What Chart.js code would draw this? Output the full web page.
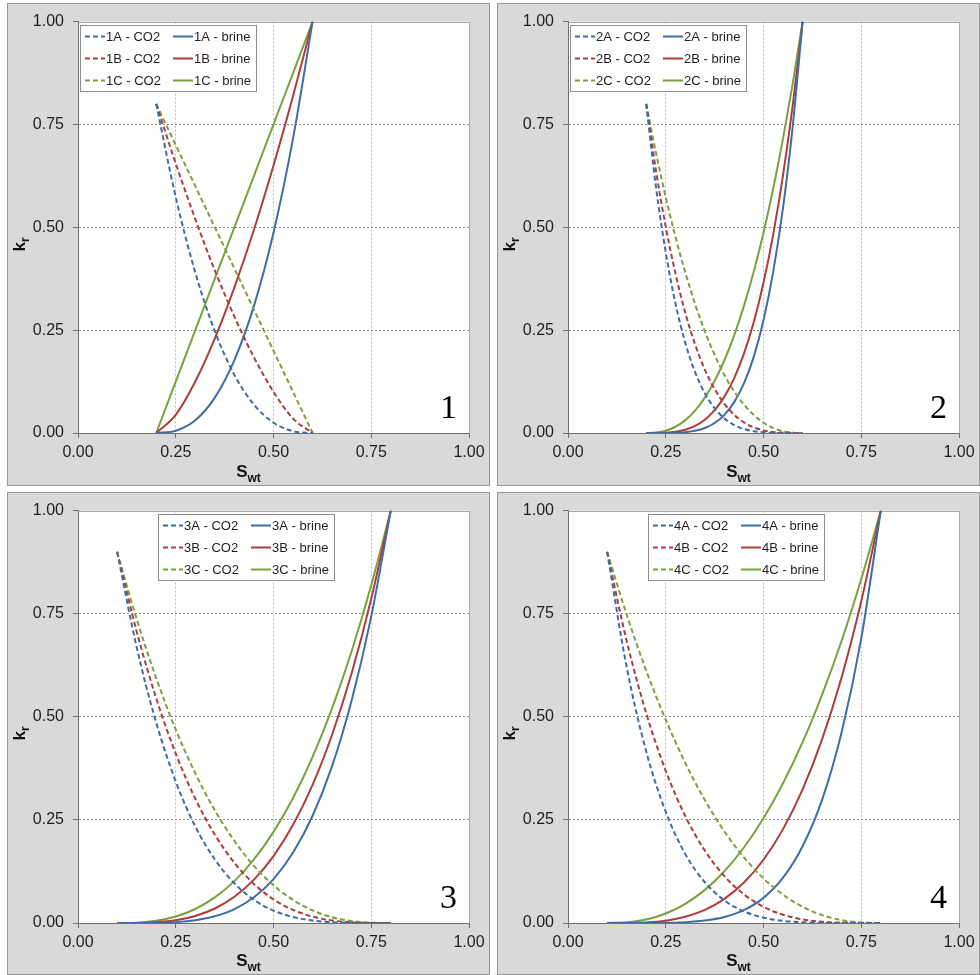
<!DOCTYPE html>
<html>
<head>
<meta charset="utf-8">
<title>Relative permeability curves</title>
<script src="https://cdn.jsdelivr.net/npm/chart.js@4.4.0/dist/chart.umd.min.js"></script>
<style>
  html, body { margin: 0; padding: 0; background: #ffffff; }
  body { position: relative; width: 980px; height: 975px; overflow: hidden; }
  canvas { position: absolute; }
</style>
</head>
<body>
<canvas id="panel1" width="483" height="483" style="left:7px;top:3px"></canvas>
<canvas id="panel2" width="483" height="483" style="left:497px;top:3px"></canvas>
<canvas id="panel3" width="483" height="484" style="left:7px;top:492px"></canvas>
<canvas id="panel4" width="483" height="484" style="left:497px;top:492px"></canvas>
<script>
// Water saturation sample points
const swP1 = [0.20, 0.25, 0.30, 0.35, 0.40, 0.45, 0.50, 0.55, 0.60];
const swP2 = [0.200, 0.225, 0.250, 0.275, 0.300, 0.325, 0.350, 0.375, 0.400,
              0.425, 0.450, 0.475, 0.500, 0.525, 0.550, 0.575, 0.600];
const swP34 = [0.10, 0.15, 0.20, 0.25, 0.30, 0.35, 0.40, 0.45,
               0.50, 0.55, 0.60, 0.65, 0.70, 0.75, 0.80];

// Set 1
const co2_1A = [0.8, 0.573, 0.390, 0.247, 0.141, 0.069, 0.025, 0.0044, 0];
const co2_1B = [0.8, 0.655, 0.520, 0.395, 0.283, 0.184, 0.100, 0.035, 0];
const co2_1C = [0.8, 0.700, 0.600, 0.500, 0.400, 0.300, 0.200, 0.100, 0];
const brine_1A = [0, 0.0055, 0.031, 0.086, 0.177, 0.309, 0.487, 0.716, 1];
const brine_1B = [0, 0.044, 0.125, 0.230, 0.354, 0.494, 0.650, 0.819, 1];
const brine_1C = [0, 0.125, 0.250, 0.375, 0.500, 0.625, 0.750, 0.875, 1];

// Set 2
const co2_2A = [0.8, 0.598, 0.439, 0.314, 0.219, 0.148, 0.0965, 0.060, 0.0354,
                0.0194, 0.0097, 0.0043, 0.0016, 0.0004, 0.0001, 0, 0];
const co2_2B = [0.8, 0.638, 0.501, 0.387, 0.292, 0.2155, 0.154, 0.107, 0.0707,
                0.0443, 0.0258, 0.0136, 0.0062, 0.0023, 0.0006, 0.0001, 0];
const co2_2C = [0.8, 0.681, 0.573, 0.476, 0.390, 0.3135, 0.247, 0.190, 0.141,
                0.101, 0.069, 0.044, 0.025, 0.012, 0.0044, 0.0008, 0];
const brine_2A = [0, 0, 0.0001, 0.0005, 0.002, 0.0053, 0.0121, 0.0242, 0.0442,
                  0.0751, 0.1206, 0.185, 0.274, 0.393, 0.548, 0.748, 1];
const brine_2B = [0, 0.0001, 0.0007, 0.0029, 0.0078, 0.0171, 0.0323, 0.0554, 0.0884,
                  0.1335, 0.193, 0.269, 0.365, 0.4835, 0.627, 0.798, 1];
const brine_2C = [0, 0.001, 0.0055, 0.0152, 0.0313, 0.0546, 0.0861, 0.1266, 0.1768,
                  0.2373, 0.309, 0.392, 0.487, 0.595, 0.716, 0.851, 1];

// Set 3
const co2_3A = [0.9, 0.669, 0.486, 0.343, 0.234, 0.154, 0.096, 0.056, 0.030,
                0.0147, 0.006, 0.0019, 0.0004, 0, 0];
const co2_3B = [0.9, 0.707, 0.545, 0.411, 0.3015, 0.214, 0.146, 0.0946, 0.0573,
                0.0317, 0.0154, 0.006, 0.0016, 0.0002, 0];
const co2_3C = [0.9, 0.737, 0.594, 0.469, 0.363, 0.273, 0.199, 0.1385, 0.0914,
                0.0558, 0.0306, 0.014, 0.0047, 0.0007, 0];
const brine_3A = [0, 0, 0.0004, 0.0021, 0.0067, 0.0163, 0.0337, 0.0625, 0.1066,
                  0.1708, 0.260, 0.381, 0.540, 0.7435, 1];
const brine_3B = [0, 0.0002, 0.0018, 0.0067, 0.0171, 0.0352, 0.0637, 0.1051, 0.1622,
                  0.238, 0.335, 0.457, 0.606, 0.786, 1];
const brine_3C = [0, 0.0008, 0.0052, 0.0156, 0.034, 0.062, 0.1015, 0.154, 0.221,
                  0.303, 0.403, 0.521, 0.6595, 0.819, 1];

// Set 4
const co2_4A = [0.9, 0.621, 0.416, 0.2695, 0.167, 0.0988, 0.0548, 0.0281, 0.0131,
                0.0052, 0.0017, 0.0004, 0.0001, 0, 0];
const co2_4B = [0.9, 0.684, 0.509, 0.369, 0.259, 0.1755, 0.1135, 0.0693, 0.0392,
                0.020, 0.0087, 0.003, 0.0007, 0.0001, 0];
const co2_4C = [0.9, 0.748, 0.612, 0.4925, 0.388, 0.298, 0.222, 0.159, 0.108,
                0.0686, 0.0392, 0.0192, 0.0069, 0.0013, 0];
const brine_4A = [0, 0, 0.0001, 0.0005, 0.0019, 0.0058, 0.0145, 0.0313, 0.0609,
                  0.1098, 0.186, 0.299, 0.463, 0.690, 1];
const brine_4B = [0, 0.0001, 0.0015, 0.0057, 0.015, 0.0318, 0.0585, 0.0981, 0.1534,
                  0.2276, 0.324, 0.446, 0.5965, 0.780, 1];
const brine_4C = [0, 0.0016, 0.0085, 0.023, 0.0465, 0.0803, 0.1254, 0.183, 0.2538,
                  0.3388, 0.4385, 0.554, 0.685, 0.834, 1];

// Axis ticks
const tickValues = [0, 0.25, 0.5, 0.75, 1];
const tickLabels = ['0.00', '0.25', '0.50', '0.75', '1.00'];
const caseLetters = ['A', 'B', 'C'];

const FONT = '"Liberation Sans", Arial, Helvetica, sans-serif';
const caseColors = { A: '#3F6CA6', B: '#AD3D3A', C: '#7BA03E' };

const panels = [
  { id: 'panel1', num: '1', sw: swP1, co2: [co2_1A, co2_1B, co2_1C], brine: [brine_1A, brine_1B, brine_1C], legendX: 2 },
  { id: 'panel2', num: '2', sw: swP2, co2: [co2_2A, co2_2B, co2_2C], brine: [brine_2A, brine_2B, brine_2C], legendX: 2 },
  { id: 'panel3', num: '3', sw: swP34, co2: [co2_3A, co2_3B, co2_3C], brine: [brine_3A, brine_3B, brine_3C], legendX: 80 },
  { id: 'panel4', num: '4', sw: swP34, co2: [co2_4A, co2_4B, co2_4C], brine: [brine_4A, brine_4B, brine_4C], legendX: 80 }
];

function toPoints(sw, values) {
  return values.map((v, i) => ({ x: sw[i], y: v }));
}

// Grey panel, white plot area and light frame on its top/right edges
const panelFrame = {
  id: 'panelFrame',
  beforeDraw(chart) {
    const { ctx, chartArea: a, width, height } = chart;
    ctx.save();
    ctx.fillStyle = '#d9d9d9';
    ctx.fillRect(0, 0, width, height);
    ctx.strokeStyle = '#979797';
    ctx.lineWidth = 1;
    ctx.strokeRect(0.5, 0.5, width - 1, 482);
    ctx.fillStyle = '#ffffff';
    ctx.fillRect(a.left, a.top, a.right - a.left, a.bottom - a.top);
    ctx.restore();
  },
  beforeDatasetsDraw(chart) {
    const { ctx, chartArea: a } = chart;
    ctx.save();
    ctx.strokeStyle = '#a8a8a8';
    ctx.lineWidth = 1;
    ctx.beginPath();
    ctx.moveTo(Math.round(a.left) + 0.5, Math.round(a.top) + 0.5);
    ctx.lineTo(Math.round(a.right) + 0.5, Math.round(a.top) + 0.5);
    ctx.lineTo(Math.round(a.right) + 0.5, Math.round(a.bottom) + 0.5);
    ctx.stroke();
    ctx.restore();
  }
};

// Two-column legend box inside the plot area, panel number, axis titles
const panelText = {
  id: 'panelText',
  afterDatasetsDraw(chart, args, opts) {
    const { ctx, chartArea: a } = chart;
    const x0 = Math.round(a.left + opts.legendX);
    const y0 = Math.round(a.top + 3);
    const w = 176, h = 66;
    ctx.save();
    ctx.fillStyle = '#ffffff';
    ctx.fillRect(x0, y0, w, h);
    ctx.strokeStyle = '#8c8c8c';
    ctx.lineWidth = 1;
    ctx.strokeRect(x0 + 0.5, y0 + 0.5, w, h);
    ctx.font = '13px ' + FONT;
    ctx.textBaseline = 'middle';
    ctx.textAlign = 'left';
    chart.data.datasets.forEach((ds, i) => {
      const col = i < 3 ? 0 : 1;
      const row = i % 3;
      const lx = x0 + 5 + col * 88;
      const ly = y0 + 11.5 + row * 22;
      ctx.strokeStyle = ds.borderColor;
      ctx.lineWidth = 2;
      ctx.setLineDash(ds.borderDash || []);
      ctx.beginPath();
      ctx.moveTo(lx, ly);
      ctx.lineTo(lx + 20, ly);
      ctx.stroke();
      ctx.setLineDash([]);
      ctx.fillStyle = '#1e1e1e';
      ctx.fillText(ds.label, lx + 21, ly + 0.5);
    });

    // panel number
    ctx.fillStyle = '#000000';
    ctx.font = '34px "Liberation Serif", "Times New Roman", serif';
    ctx.textAlign = 'right';
    ctx.textBaseline = 'alphabetic';
    ctx.fillText(opts.num, a.right - 12, a.bottom - 15);
    ctx.restore();
  },
  afterDraw(chart) {
    const { ctx, width } = chart;
    const big = 'bold 17px ' + FONT;
    const small = 'bold 12px ' + FONT;
    ctx.save();
    ctx.fillStyle = '#111111';
    ctx.textBaseline = 'alphabetic';
    ctx.textAlign = 'left';

    // x title: S with subscript wt
    ctx.font = big;
    const wS = ctx.measureText('S').width;
    ctx.font = small;
    const wWt = ctx.measureText('wt').width;
    const sx = width / 2 - (wS + wWt) / 2;
    ctx.font = big;
    ctx.fillText('S', sx, 474);
    ctx.font = small;
    ctx.fillText('wt', sx + wS, 479);

    // y title: k with subscript r, rotated
    ctx.translate(18, 241.5);
    ctx.rotate(-Math.PI / 2);
    ctx.font = big;
    const wK = ctx.measureText('k').width;
    ctx.font = small;
    const wR = ctx.measureText('r').width;
    const kx = -(wK + wR) / 2;
    ctx.font = big;
    ctx.fillText('k', kx, 0);
    ctx.font = small;
    ctx.fillText('r', kx + wK, 4);
    ctx.restore();
  }
};

function axisOptions(isX) {
  return {
    type: 'linear',
    min: 0,
    max: 1,
    afterBuildTicks: (scale) => { scale.ticks = tickValues.map(v => ({ value: v })); },
    afterFit: (scale) => { if (isX) { scale.height = 53; } else { scale.width = 71; } },
    ticks: {
      callback: (value) => tickLabels[tickValues.indexOf(value)],
      font: { family: FONT, size: 16 },
      color: '#1e1e1e',
      padding: isX ? 5 : 9,
      maxRotation: 0,
      autoSkip: false
    },
    grid: {
      color: (c) => (c.tick && c.tick.value > 0 && c.tick.value < 1)
        ? (isX ? '#bdbdbd' : '#8f8f8f') : 'rgba(0,0,0,0)',
      lineWidth: 1,
      drawTicks: true,
      tickLength: 5,
      tickColor: '#6f6f6f',
      tickWidth: 1
    },
    border: { display: true, color: '#6f6f6f', width: 1, dash: [2, 2] }
  };
}

panels.forEach((p) => {
  const datasets = [];
  caseLetters.forEach((L, i) => {
    datasets.push({
      label: p.num + L + ' - CO2',
      data: toPoints(p.sw, p.co2[i]),
      borderColor: caseColors[L],
      borderDash: [5, 3],
      borderWidth: 2
    });
  });
  caseLetters.forEach((L, i) => {
    datasets.push({
      label: p.num + L + ' - brine',
      data: toPoints(p.sw, p.brine[i]),
      borderColor: caseColors[L],
      borderWidth: 2
    });
  });

  new Chart(document.getElementById(p.id), {
    type: 'line',
    data: { datasets },
    options: {
      responsive: false,
      animation: false,
      devicePixelRatio: 1,
      layout: { padding: { left: 0, top: 18, right: 21, bottom: 0 } },
      elements: {
        point: { radius: 0, hoverRadius: 0 },
        line: { cubicInterpolationMode: 'monotone', fill: false, borderCapStyle: 'butt' }
      },
      plugins: {
        legend: { display: false },
        tooltip: { enabled: false },
        panelText: { legendX: p.legendX, num: p.num }
      },
      scales: { x: axisOptions(true), y: axisOptions(false) }
    },
    plugins: [panelFrame, panelText]
  });
});
</script>
</body>
</html>
